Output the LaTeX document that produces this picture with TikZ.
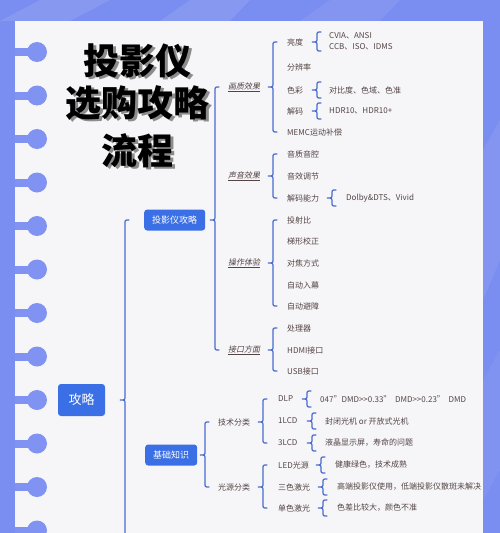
\documentclass[tikz,border=0pt]{standalone}
\usepackage{fontspec}
\setmainfont{Noto Sans CJK SC}
\newfontfamily\slfont{Noto Sans CJK SC}[FakeSlant=0.2]
\usepackage{tikz}
\usetikzlibrary{calc}
\definecolor{bgblue}{RGB}{122,141,240}
\definecolor{ringblue}{RGB}{128,146,242}
\definecolor{paper}{RGB}{246,246,248}
\definecolor{boxblue}{RGB}{58,111,230}
\definecolor{brblue}{RGB}{72,108,208}
\definecolor{txt}{RGB}{84,68,68}
\definecolor{shadowgrey}{RGB}{140,140,140}
\NewDocumentCommand{\brc}{O{0pt} O{12pt} m m m}{%
  \draw[brc] let \p1=(#3.east), \p2=(#4.west), \p3=(#5.west) in
    ({\x2-#2+4pt},{\y2+#1}) .. controls ({\x2-#2},{\y2+#1}) .. ({\x2-#2},{\y2+#1-4pt})
    -- ({\x2-#2},{\y1+4pt}) .. controls ({\x2-#2},{\y1}) .. ({\x2-#2-5pt},{\y1})
    .. controls ({\x2-#2},{\y1}) .. ({\x2-#2},{\y1-4pt})
    -- ({\x2-#2},{\y3-#1+4pt}) .. controls ({\x2-#2},{\y3-#1}) .. ({\x2-#2+4pt},{\y3-#1});}
\newcommand{\shd}[1]{\rlap{\kern2.5pt\raisebox{-2.5pt}{\textcolor{shadowgrey}{#1}}}#1}

\begin{document}
\begin{tikzpicture}[x=1pt,y=-1pt,
    brc/.style={brblue,line width=1.2pt,line cap=round},
    lbox/.style={fill=boxblue,text=white,rounded corners=3pt,inner xsep=8pt,minimum height=21pt,font=\fontsize{9}{10}\selectfont},
    itm/.style={anchor=west,inner sep=1pt,text=txt,font=\fontsize{8}{9}\selectfont},
    sec/.style={itm,font=\fontsize{8}{9}\selectfont\slfont},
    ttl/.style={font=\fontsize{36}{40}\selectfont\bfseries}]
  \useasboundingbox (0,0) rectangle (500,533);
  \fill[bgblue] (0,0) rectangle (500,533);
  \fill[white,opacity=0.10] (40,0) -- (110,0) -- (70,21) -- (0,21) -- cycle;
  \fill[white,opacity=0.10] (190,0) -- (250,0) -- (230,21) -- (160,21) -- cycle;
  \fill[white,opacity=0.08] (330,0) -- (400,0) -- (380,21) -- (300,21) -- cycle;
  \fill[white,opacity=0.08] (483,150) -- (500,120) -- (500,260) -- (483,300) -- cycle;
  \fill[white,opacity=0.06] (483,380) -- (500,350) -- (500,470) -- (483,500) -- cycle;
  \fill[paper] (15,21) rectangle (483,540);
  \foreach \i in {0,...,11} {
    \fill[ringblue] (15,{52+43.5*\i-4}) rectangle (37,{52+43.5*\i+4});
    \fill[ringblue] (37,{52+43.5*\i}) circle (10);
  }
  \foreach \t/\y [count=\k] in {投影仪/62,选购攻略/104,流程/152} {
    \node[ttl] (title\k) at (137.5,\y) {\shd{\t}};
  }
  \node[lbox,minimum width=47pt,minimum height=32pt,font=\fontsize{13}{14}\selectfont] (root) at (81.5,400) {攻略};
  \node[lbox,anchor=west] (tyg) at (144,220) {投影仪攻略};
  \node[lbox,anchor=west] (jczs) at (145,455) {基础知识};
  \node[inner sep=0pt] (more) at (145,560) {};
  \node[sec] (hz) at (227,87) {\underline{画质效果}};
  \node[sec] (sy) at (227,176) {\underline{声音效果}};
  \node[sec] (cz) at (227,263) {\underline{操作体验}};
  \node[sec] (jk) at (227,350) {\underline{接口方面}};
  \node[itm] (js) at (217,422) {技术分类};
  \node[itm] (gy) at (217,487) {光源分类};
  \node[itm] (ld) at (286,42) {亮度};
  \node[itm] (fbl) at (286,67) {分辨率};
  \node[itm] (sc) at (286,90) {色彩};
  \node[itm] (jm) at (286,111) {解码};
  \node[itm] (memc) at (286,132) {MEMC运动补偿};
  \node[itm] (yz) at (286,154) {音质音腔};
  \node[itm] (yx) at (286,176) {音效调节};
  \node[itm] (jmnl) at (286,198) {解码能力};
  \node[itm] (tsb) at (286,220) {投射比};
  \node[itm] (tx) at (286,241) {梯形校正};
  \node[itm] (dj) at (286,263) {对焦方式};
  \node[itm] (rm) at (286,285) {自动入幕};
  \node[itm] (bz) at (286,306) {自动避障};
  \node[itm] (clq) at (286,328) {处理器};
  \node[itm] (hdmi) at (286,350) {HDMI接口};
  \node[itm] (usb) at (286,371) {USB接口};
  \node[itm] (dlp) at (277,399) {DLP};
  \node[itm] (lcd1) at (277,421) {1LCD};
  \node[itm] (lcd3) at (277,443) {3LCD};
  \node[itm] (led) at (277,465) {LED光源};
  \node[itm] (ss) at (277,487) {三色激光};
  \node[itm] (ds) at (277,508) {单色激光};
  \node[itm] (cvia) at (328,36) {CVIA、ANSI};
  \node[itm] (ccb) at (328,47) {CCB、ISO、IDMS};
  \node[itm] (dbd) at (328,90) {对比度、色域、色准};
  \node[itm] (hdr) at (328,111) {HDR10、HDR10+};
  \node[itm] (dolby) at (345,198) {Dolby\&DTS、Vivid};
  \node[itm] (dmd) at (319,399) {047"DMD>{}>0.33"\ \ DMD>{}>0.23"\ \ DMD};
  \node[itm] (fb) at (324,421) {封闭光机 or 开放式光机};
  \node[itm] (yj) at (324,443) {液晶显示屏，寿命的问题};
  \node[itm] (jkls) at (334,465) {健康绿色，技术成熟};
  \node[itm] (gd) at (336,487) {高端投影仪使用，低端投影仪散斑未解决};
  \node[itm] (scd) at (336,508) {色差比较大，颜色不准};
  \brc[0pt][19pt]{root}{tyg}{more}
  \brc[0pt][12pt]{tyg}{hz}{jk}
  \brc[0pt][12pt]{jczs}{js}{gy}
  \brc[0pt][13pt]{hz}{ld}{memc}
  \brc[0pt][13pt]{sy}{yz}{jmnl}
  \brc[0pt][13pt]{cz}{tsb}{bz}
  \brc[0pt][13pt]{jk}{clq}{usb}
  \brc[0pt][14pt]{js}{dlp}{lcd3}
  \brc[0pt][14pt]{gy}{led}{ds}
  \brc[4pt][11pt]{ld}{cvia}{ccb}
  \brc[8pt][11pt]{sc}{dbd}{dbd}
  \brc[8pt][11pt]{jm}{hdr}{hdr}
  \brc[8pt][13pt]{jmnl}{dolby}{dolby}
  \brc[8pt][12pt]{dlp}{dmd}{dmd}
  \brc[8pt][12pt]{lcd1}{fb}{fb}
  \brc[8pt][12pt]{lcd3}{yj}{yj}
  \brc[8pt][13pt]{led}{jkls}{jkls}
  \brc[8pt][13pt]{ss}{gd}{gd}
  \brc[8pt][13pt]{ds}{scd}{scd}
\end{tikzpicture}
\end{document}
